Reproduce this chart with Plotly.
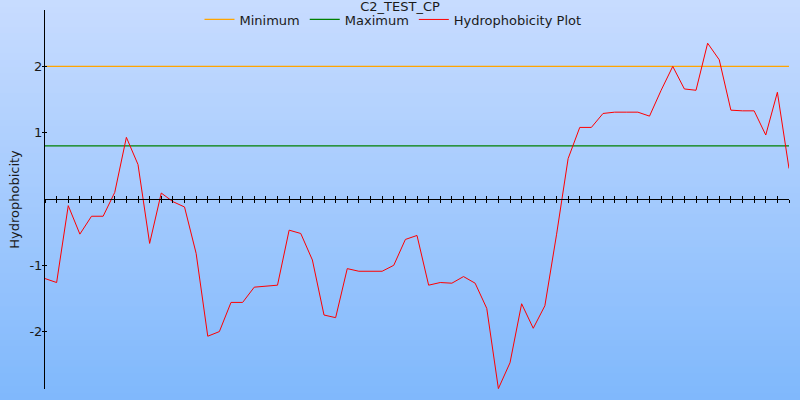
import plotly.graph_objects as go

# ---- data ----
positions = list(range(65))
hydrophobicity = [
    -1.20, -1.26, -0.10, -0.53, -0.26, -0.26, 0.10, 0.93, 0.52, -0.67,
    0.09, -0.04, -0.12, -0.82, -2.07, -2.00, -1.56, -1.56, -1.33, -1.31,
    -1.30, -0.47, -0.52, -0.92, -1.75, -1.79, -1.05, -1.09, -1.09, -1.09,
    -1.00, -0.61, -0.55, -1.30, -1.26, -1.27, -1.17, -1.27, -1.65, -2.86,
    -2.47, -1.58, -1.95, -1.61, -0.54, 0.61, 1.08, 1.08, 1.29, 1.31,
    1.31, 1.31, 1.25, 1.64, 2.00, 1.66, 1.64, 2.35, 2.10, 1.34,
    1.33, 1.33, 0.965, 1.61, 0.46,
]
minimum_value = 2.0
maximum_value = 0.8
y_ticks = [-2, -1, 1, 2]
title_text = "C2_TEST_CP"
y_title = "Hydrophobicity"

# ---- layout constants ----
W, H = 800, 400
ML, MR, MT, MB = 45, 11, 10, 11
Y_RANGE = [-2.866, 2.851]
X_RANGE = [positions[0], positions[-1]]
zero_pos = (0 - Y_RANGE[0]) / (Y_RANGE[1] - Y_RANGE[0])
plot_h = H - MT - MB
plot_w = W - ML - MR

fig = go.Figure()

x_ends = [positions[0], positions[-1]]
fig.add_trace(go.Scatter(x=x_ends, y=[minimum_value] * 2, mode="lines",
                         name="Minimum", line=dict(color="#FFA500", width=1.3)))
fig.add_trace(go.Scatter(x=x_ends, y=[maximum_value] * 2, mode="lines",
                         name="Maximum", line=dict(color="#008000", width=1.3)))
fig.add_trace(go.Scatter(x=positions, y=hydrophobicity, mode="lines",
                         name="Hydrophobicity Plot", line=dict(color="#FF0000", width=1)))
# helper (invisible) traces so the overlay axes exist
fig.add_trace(go.Scatter(x=[None], y=[None], xaxis="x2", yaxis="y",
                         showlegend=False, hoverinfo="skip"))
fig.add_trace(go.Scatter(x=[None], y=[None], xaxis="x", yaxis="y2",
                         showlegend=False, hoverinfo="skip"))

# vertical gradient background
N = 60
top = (200, 220, 255)
bot = (127, 184, 252)
shapes = []
for i in range(N):
    t = (i + 0.5) / N
    c = tuple(round(top[k] + (bot[k] - top[k]) * t) for k in range(3))
    py0 = H * i / N
    py1 = H * (i + 1) / N + 0.6
    y0 = (H - MB - py0) / plot_h
    y1 = (H - MB - py1) / plot_h
    shapes.append(dict(type="rect", xref="paper", yref="paper",
                       x0=-0.2, x1=1.2, y0=y1, y1=y0, layer="below",
                       line=dict(width=0), fillcolor="rgb(%d,%d,%d)" % c))

font = dict(family="DejaVu Sans", size=13, color="#1a1a1a")

fig.update_layout(
    width=W, height=H,
    margin=dict(l=ML, r=MR, t=MT, b=MB, autoexpand=False),
    paper_bgcolor="rgb(164,202,254)",
    plot_bgcolor="rgba(0,0,0,0)",
    font=font,
    shapes=shapes,
    title=dict(text=title_text, x=0.5, xanchor="center", y=1 - 6.5 / H, yanchor="middle",
               yref="container", automargin=False,
               font=dict(family="DejaVu Sans", size=13, color="#1a1a1a")),
    showlegend=True,
    legend=dict(orientation="h", x=(393 - ML) / plot_w, xanchor="center",
                y=1 - 9.5 / plot_h, yanchor="middle", bgcolor="rgba(0,0,0,0)", font=font,
                itemwidth=30, tracegroupgap=0),
    xaxis=dict(range=X_RANGE, anchor="free", position=zero_pos, automargin=False,
               showline=True, linecolor="black", linewidth=1,
               ticks="outside", ticklen=3, tickwidth=1, tickcolor="black",
               tick0=0, dtick=1, showticklabels=False, showgrid=False, zeroline=False),
    xaxis2=dict(range=X_RANGE, overlaying="x", anchor="free", position=zero_pos,
                automargin=False,
                showline=False, ticks="inside", ticklen=3, tickwidth=1,
                tickcolor="black", tick0=0, dtick=1, showticklabels=False,
                showgrid=False, zeroline=False),
    yaxis=dict(range=Y_RANGE, showline=True, linecolor="black", linewidth=1,
               automargin=False,
               ticks="outside", ticklen=2, tickwidth=1, tickcolor="black",
               tickvals=y_ticks, ticktext=[str(v) for v in y_ticks],
               ticklabelstandoff=-3,
               showgrid=False, zeroline=False,
               title=dict(text=y_title, standoff=6, font=font)),
    yaxis2=dict(range=Y_RANGE, overlaying="y", side="left", anchor="x",
                automargin=False,
                showline=False, ticks="inside", ticklen=2, tickwidth=1,
                tickcolor="black", tickvals=y_ticks, showticklabels=False,
                showgrid=False, zeroline=False),
)

fig.write_html("out.html", config={"displayModeBar": False},
               post_script="document.body.style.margin='0';")
